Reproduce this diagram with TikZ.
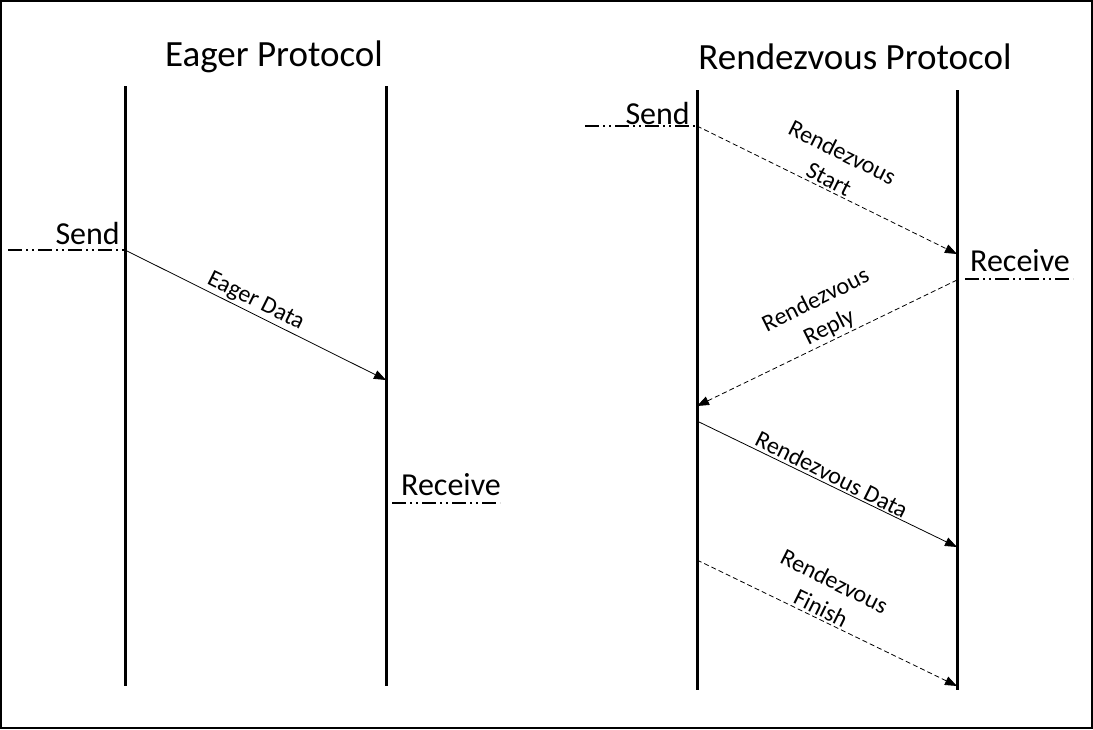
\documentclass[tikz,border=0pt]{standalone}
\usepackage{fontspec}
\setmainfont{Carlito}
\usetikzlibrary{arrows.meta}
\tikzset{
    life/.style={line width=3pt},
    msg/.style={-{Triangle[length=12pt,width=9pt]}, line width=0.8pt},
    ctrl/.style={msg, dash pattern=on 5pt off 3pt},
    mark line/.style={line width=1.6pt, dash pattern=on 14pt off 4pt on 2pt off 4pt on 2pt off 4pt},
    title/.style={font=\fontsize{37}{40}\selectfont},
    evt/.style={font=\fontsize{32}{36}\selectfont, inner sep=0pt},
    lbl/.style={font=\fontsize{24}{30}\selectfont, align=center, inner sep=2pt, anchor=south},
}
\begin{document}
\begin{tikzpicture}[x=1pt, y=-1pt]
\useasboundingbox (0,0) rectangle (1093,729);
\draw[line width=1.5pt] (1,1) rectangle (1092,728);
% titles
\node[title] (eager) at (274,57) {Eager Protocol};
\node[title] (rdv) at (855,57) {Rendezvous Protocol};
% lifelines
\coordinate (eSt) at (125,86);  \coordinate (eSb) at (125,686);
\coordinate (eRt) at (386,86);  \coordinate (eRb) at (386,686);
\coordinate (rSt) at (697,90);  \coordinate (rSb) at (697,690);
\coordinate (rRt) at (957,90);  \coordinate (rRb) at (957,690);
\draw[life] (eSt)--(eSb);
\draw[life] (eRt)--(eRb);
\draw[life] (rSt)--(rSb);
\draw[life] (rRt)--(rRb);
% eager protocol
\node[evt, anchor=base east] (esend) at (120,244) {Send};
\coordinate (eml) at (8,250);
\coordinate (e1) at (125,250);
\coordinate (e2) at (386,380);
\draw[mark line] (eml)--(e1);
\draw[msg] (e1)--(e2) node[lbl, midway, rotate=-26.5, xshift=-6pt]{Eager Data};
\node[evt, anchor=base west] (erecv) at (401,495) {Receive};
\coordinate (emr1) at (392,503);
\coordinate (emr2) at (500,503);
\draw[mark line] (emr1)--(emr2);
% rendezvous protocol
\node[evt, anchor=base east] (rsend) at (690,124) {Send};
\coordinate (rml) at (585,126);
\coordinate (r1) at (697,126);
\coordinate (r2) at (957,254);
\coordinate (r3) at (957,280);
\coordinate (r4) at (697,406);
\coordinate (r5) at (697,421);
\coordinate (r6) at (957,547);
\coordinate (r7) at (697,560);
\coordinate (r8) at (957,686);
\draw[mark line] (rml)--(r1);
\node[evt, anchor=base west] (rrecv) at (970,271) {Receive};
\coordinate (rmr1) at (965,279);
\coordinate (rmr2) at (1073,279);
\draw[mark line] (rmr1)--(rmr2);
\draw[ctrl] (r1)--(r2) node[lbl, midway, rotate=-26.5, xshift=-3pt]{Rendezvous\\Start};
\draw[ctrl] (r3)--(r4) node[lbl, midway, rotate=26.5, xshift=9pt]{Rendezvous\\Reply};
\draw[msg] (r5)--(r6) node[lbl, midway, rotate=-26.5]{Rendezvous Data};
\draw[ctrl] (r7)--(r8) node[lbl, midway, rotate=-26.5, xshift=-12pt]{Rendezvous\\Finish};
\end{tikzpicture}
\end{document}
